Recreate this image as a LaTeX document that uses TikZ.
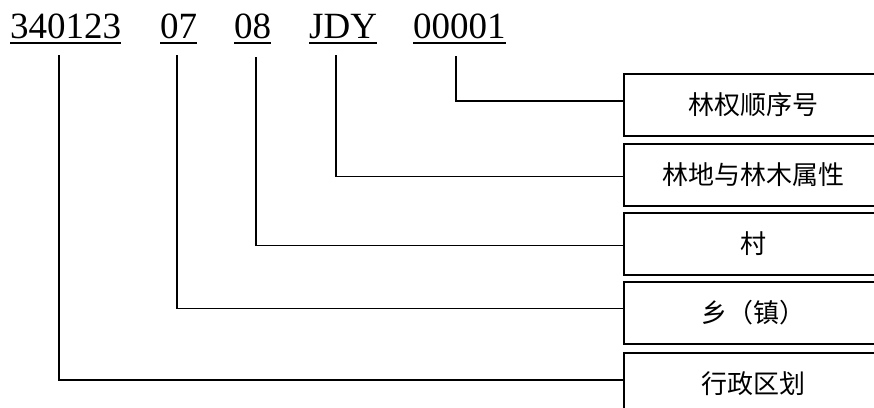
\documentclass[tikz,border=0pt]{standalone}
\usepackage{fontspec}
\setmainfont{Liberation Serif}
\newfontfamily\cjk{Noto Sans CJK SC}
\begin{document}
\begin{tikzpicture}[x=1pt,y=-1pt,
  code/.style={font=\fontsize{37}{40}\selectfont, inner sep=0pt, anchor=base west},
  uline/.style={line width=1.3pt},
  conn/.style={line width=1.6pt},
  box/.style={draw, line width=2pt, minimum width=258pt, minimum height=62pt, anchor=north west, inner sep=0pt, font=\cjk\fontsize{26}{28}\selectfont}]
\useasboundingbox (0,0) rectangle (874,407);
% code parts
\node[code] (t1) at (10,38) {340123};
\node[code] (t2) at (160,38) {07};
\node[code] (t3) at (234,38) {08};
\node[code] (t4) at (309,38) {JDY};
\node[code] (t5) at (413,38) {00001};
\foreach \n in {t1,t2,t3,t4,t5}
  \draw[uline] ([yshift=-5pt]\n.base west) -- ([yshift=-5pt]\n.base east);
% boxes
\node[box] (b1) at (623,73) {林权顺序号};
\node[box] (b2) at (623,143) {林地与林木属性};
\node[box] (b3) at (623,212) {村};
\node[box] (b4) at (623,281) {乡（镇）};
\node[box] (b5) at (623,352) {行政区划};
% connector start points
\coordinate (s1) at (59,55);
\coordinate (s2) at (177,55);
\coordinate (s3) at (256,57);
\coordinate (s4) at (336,55);
\coordinate (s5) at (456,56);
\draw[conn] (s5) |- ([yshift=4pt]b1.west);
\draw[conn] (s4) |- ([yshift=-1.5pt]b2.west);
\draw[conn] (s3) |- ([yshift=-1.5pt]b3.west);
\draw[conn] (s2) |- ([yshift=4.5pt]b4.west);
\draw[conn] (s1) |- ([yshift=4pt]b5.west);
\end{tikzpicture}
\end{document}
